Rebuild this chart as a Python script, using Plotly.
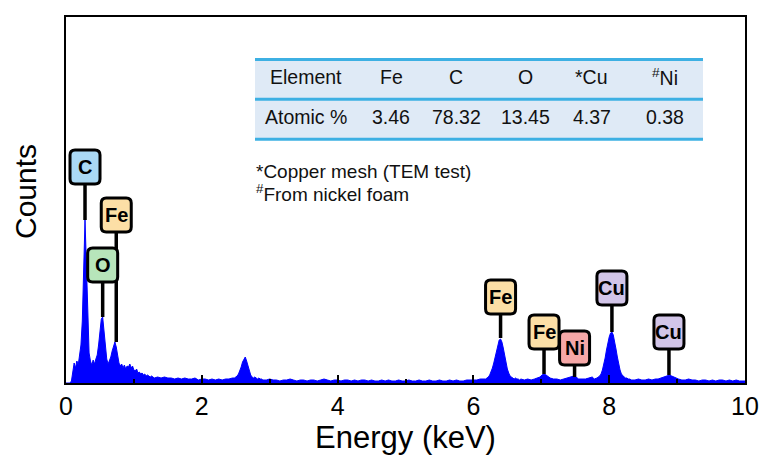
import plotly.graph_objects as go

# ---------------- data ----------------
energy = [
    0.00, 0.02, 0.04, 0.06, 0.08, 0.10, 0.12, 0.14, 0.16, 0.18, 0.20, 0.22, 0.24, 0.26, 0.28,
    0.30, 0.32, 0.34, 0.36, 0.38, 0.40, 0.42, 0.44, 0.46, 0.48, 0.50, 0.52, 0.54, 0.56, 0.58,
    0.60, 0.62, 0.64, 0.66, 0.68, 0.70, 0.72, 0.74, 0.76, 0.78, 0.80, 0.82, 0.84, 0.86, 0.88,
    0.90, 0.92, 0.94, 0.96, 0.98, 1.00, 1.02, 1.04, 1.06, 1.08, 1.10, 1.12, 1.14, 1.16, 1.18,
    1.20, 1.22, 1.24, 1.26, 1.28, 1.30,
    1.35, 1.40, 1.45, 1.50, 1.55, 1.60, 1.65, 1.70, 1.75, 1.80, 1.85, 1.90, 1.95, 2.00, 2.05,
    2.10, 2.15, 2.20, 2.25, 2.30, 2.35, 2.40, 2.45,
    2.48, 2.50, 2.52, 2.54, 2.56, 2.58, 2.60, 2.62, 2.64, 2.66, 2.68, 2.70, 2.72, 2.74, 2.76,
    2.78, 2.80, 2.82, 2.84, 2.86, 2.88, 2.90,
    2.95, 3.00, 3.05, 3.10, 3.15, 3.20, 3.25, 3.30, 3.35, 3.40, 3.45, 3.50, 3.55, 3.60, 3.65,
    3.70, 3.75, 3.80, 3.85, 3.90, 3.95, 4.00, 4.05, 4.10, 4.15, 4.20, 4.25, 4.30, 4.35, 4.40,
    4.45, 4.50, 4.55, 4.60, 4.65, 4.70, 4.75, 4.80, 4.85, 4.90, 4.95, 5.00, 5.05, 5.10, 5.15,
    5.20, 5.25, 5.30, 5.35, 5.40, 5.45, 5.50, 5.55, 5.60, 5.65, 5.70, 5.75, 5.80, 5.85, 5.90,
    5.95, 6.00, 6.05, 6.10, 6.15,
    6.18, 6.20, 6.22, 6.24, 6.26, 6.28, 6.30, 6.32, 6.34, 6.36, 6.38, 6.40, 6.42, 6.44, 6.46,
    6.48, 6.50, 6.52, 6.54, 6.56, 6.58, 6.60, 6.62, 6.64, 6.66, 6.68, 6.70,
    6.75, 6.80, 6.85, 6.90, 6.95, 6.98, 7.01, 7.04, 7.07, 7.10, 7.13, 7.18, 7.23, 7.28, 7.33,
    7.38, 7.42, 7.45, 7.48, 7.51, 7.55, 7.60, 7.65, 7.70, 7.75,
    7.78, 7.82, 7.86, 7.88, 7.90, 7.92, 7.94, 7.96, 7.98, 8.00, 8.02, 8.04, 8.06, 8.08, 8.10,
    8.12, 8.14, 8.16, 8.18, 8.20, 8.22, 8.24, 8.26, 8.28, 8.30, 8.33,
    8.38, 8.43, 8.48, 8.53, 8.58, 8.63, 8.68, 8.72, 8.76, 8.80, 8.83, 8.86, 8.89, 8.92, 8.95,
    8.98, 9.02, 9.07, 9.12, 9.17, 9.22, 9.27, 9.32, 9.37, 9.42, 9.47, 9.52, 9.57, 9.62, 9.67,
    9.72, 9.77, 9.82, 9.87, 9.92, 9.97, 10.00,
]
counts = [
    0, 0, 0, 0, 2, 14, 20, 15, 22, 18, 26, 38, 62, 110, 163,
    120, 58, 30, 22, 18, 23, 19, 24, 28, 38, 52, 64, 66, 52, 34,
    24, 19, 22, 26, 32, 38, 41, 36, 27, 20, 17, 19, 15, 18, 14,
    17, 16, 19, 15, 17, 13, 12, 14, 10, 11, 9, 10, 8, 9, 7,
    8, 7, 6, 7, 6, 5,
    6, 5, 6, 5, 5, 4, 5, 4, 5, 4, 4, 5, 3, 4, 4,
    3, 4, 3, 4, 3, 4, 4, 5,
    5, 6, 7, 9, 12, 16, 21, 24, 26, 22, 17, 12, 8, 6, 5,
    6, 5, 4, 5, 4, 4, 3,
    3, 4, 3, 3, 2, 3, 3, 4, 3, 2, 3, 3, 2, 3, 3,
    2, 3, 4, 3, 2, 3, 3, 2, 3, 3, 2, 3, 2, 3, 3,
    2, 3, 2, 2, 3, 2, 3, 2, 2, 3, 2, 2, 3, 2, 2,
    3, 2, 2, 3, 2, 2, 3, 2, 2, 3, 2, 3, 2, 2, 3,
    3, 3, 3, 4, 4,
    4, 5, 6, 8, 11, 15, 20, 26, 33, 39, 43, 44, 41, 35, 27,
    20, 14, 10, 7, 6, 5, 4, 5, 4, 4, 3, 4,
    3, 4, 3, 4, 5, 6, 8, 9, 8, 6, 5, 4, 4, 3, 4,
    5, 6, 7, 7, 6, 4, 4, 4, 5, 6,
    4, 5, 7, 9, 13, 18, 25, 33, 40, 46, 50, 51, 48, 42, 34,
    26, 19, 13, 9, 7, 6, 5, 5, 4, 4, 3,
    3, 4, 3, 3, 4, 3, 4, 4, 5, 6, 7, 8, 8, 7, 6,
    5, 4, 3, 3, 4, 3, 3, 2, 3, 3, 2, 3, 2, 3, 3,
    2, 3, 2, 3, 2, 2, 2,
]

label_text = ["C", "Fe", "O", "Fe", "Fe", "Ni", "Cu", "Cu"]
label_energy = [0.28, 0.74, 0.54, 6.40, 7.04, 7.49, 8.04, 8.88]
label_line_end = [163, 41, 66, 45, 9, 6, 51, 8]          # peak heights the stems reach
label_height = [216, 168, 118, 86, 51, 35, 95, 51]       # box centre heights
label_fill = {"C": "#aad9f5", "Fe": "#fcdfa6", "O": "#b7e5ba", "Ni": "#f5a7a7", "Cu": "#d2c5e8"}

table_header = ["Element", "Fe", "C", "O", "*Cu", "<sup>#</sup>Ni"]
table_values = ["Atomic %", "3.46", "78.32", "13.45", "4.37", "0.38"]
notes = ["*Copper mesh (TEM test)", "<sup>#</sup>From nickel foam"]

x_ticks = [0, 2, 4, 6, 8, 10]

# ---------------- layout helpers ----------------
W, H = 761, 455
L, R, T, B = 66, 16, 17, 72
PW, PH = W - L - R, H - T - B


def px_x(p):
    return (p - L) / PW


def px_y(p):
    return (H - B - p) / PH


FONT = "Liberation Sans, Arial, sans-serif"

fig = go.Figure()
fig.add_trace(go.Scatter(
    x=energy, y=counts, mode="lines", fill="tozeroy",
    line=dict(color="#0000ff", width=1), fillcolor="#0000ff",
    hoverinfo="skip", showlegend=False,
))

shapes = []
annotations = []

# table
tx0, tx1 = px_x(255), px_x(703)
ty_top, ty_mid, ty_bot = px_y(59.5), px_y(99.3), px_y(139.3)
shapes.append(dict(type="rect", xref="paper", yref="paper", x0=tx0, x1=tx1, y0=ty_bot, y1=ty_top,
                   fillcolor="#dfeaf6", line=dict(width=0), layer="below"))
for yy in (ty_top, ty_mid, ty_bot):
    shapes.append(dict(type="line", xref="paper", yref="paper", x0=tx0, x1=tx1, y0=yy, y1=yy,
                       line=dict(color="#3db0e3", width=3)))
col_px = [306, 391, 456.5, 525, 591.5, 665]
for i, (h, v) in enumerate(zip(table_header, table_values)):
    annotations.append(dict(xref="paper", yref="paper", x=px_x(col_px[i]), y=px_y(77),
                            text=h, showarrow=False, font=dict(family=FONT, size=19.5, color="#111"),
                            xanchor="center", yanchor="middle"))
    annotations.append(dict(xref="paper", yref="paper", x=px_x(col_px[i]), y=px_y(117),
                            text=v, showarrow=False, font=dict(family=FONT, size=19.5, color="#111"),
                            xanchor="center", yanchor="middle"))
for j, n in enumerate(notes):
    annotations.append(dict(xref="paper", yref="paper", x=px_x(254), y=px_y(171 + 22 * j),
                            text=n, showarrow=False, font=dict(family=FONT, size=19, color="#111"),
                            xanchor="left", yanchor="middle"))

# peak labels: stems then rounded boxes
for t, e, y_end, y_box in zip(label_text, label_energy, label_line_end, label_height):
    shapes.append(dict(type="line", xref="x", yref="y", x0=e, x1=e, y0=y_end, y1=y_box,
                       line=dict(color="black", width=3.5)))
box_path = ("M -10,-17 L 10,-17 Q 15,-17 15,-12 L 15,12 Q 15,17 10,17 "
            "L -10,17 Q -15,17 -15,12 L -15,-12 Q -15,-17 -10,-17 Z")
for t, e, y_box in zip(label_text, label_energy, label_height):
    shapes.append(dict(type="path", xref="x", yref="y", xsizemode="pixel", ysizemode="pixel",
                       xanchor=e, yanchor=y_box, path=box_path,
                       fillcolor=label_fill[t], line=dict(color="black", width=3)))
    annotations.append(dict(xref="x", yref="y", x=e, y=y_box, text="<b>%s</b>" % t,
                            showarrow=False, font=dict(family=FONT, size=20, color="black"),
                            xanchor="center", yanchor="middle"))

# y-axis title
annotations.append(dict(xref="paper", yref="paper", x=px_x(25), y=px_y(192), text="Counts",
                        textangle=-90, showarrow=False, font=dict(family=FONT, size=30, color="black"),
                        xanchor="center", yanchor="middle"))

fig.update_layout(
    width=W, height=H,
    margin=dict(l=L, r=R, t=T, b=B, pad=0, autoexpand=False),
    paper_bgcolor="white", plot_bgcolor="white",
    shapes=shapes, annotations=annotations,
    xaxis=dict(
        range=[0, 10], tickvals=x_ticks, ticktext=[str(v) for v in x_ticks],
        ticks="inside", ticklen=8, tickwidth=2, tickcolor="black",
        minor=dict(dtick=1, ticks="inside", ticklen=4, tickwidth=1.5, tickcolor="black"),
        showline=True, linecolor="black", linewidth=2, mirror=True,
        showgrid=False, zeroline=False, automargin=False,
        tickfont=dict(family=FONT, size=25, color="black"),
        title=dict(text="Energy (keV)", font=dict(family=FONT, size=31, color="black"), standoff=4),
    ),
    yaxis=dict(
        range=[0, PH], showticklabels=False, ticks="",
        showline=True, linecolor="black", linewidth=2, mirror=True,
        showgrid=False, zeroline=False, automargin=False,
    ),
)

fig.write_html("out.html")
